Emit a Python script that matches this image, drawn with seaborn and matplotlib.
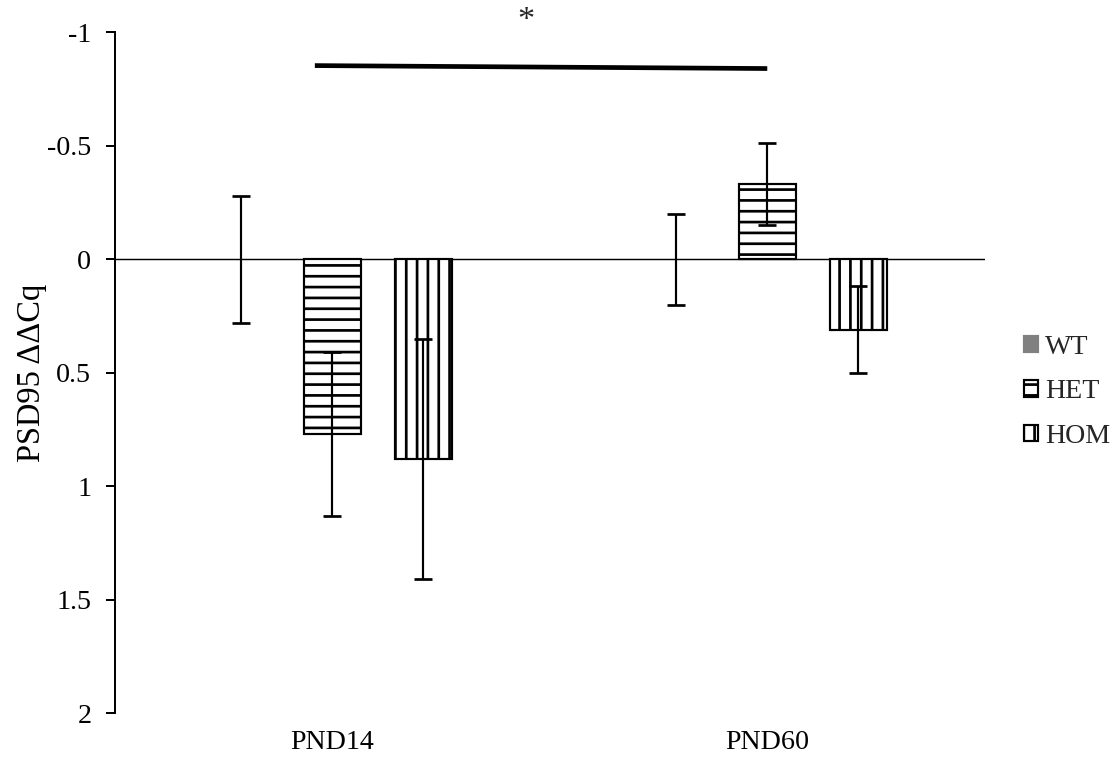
import pandas as pd
import matplotlib.pyplot as plt
import seaborn as sns
from matplotlib.patches import Patch
from matplotlib.ticker import FuncFormatter

groups = ['PND14', 'PND60']
genotypes = ['WT', 'HET', 'HOM']

wt_mean = [0.0, 0.0]
wt_sem = [0.28, 0.20]
het_mean = [0.77, -0.33]
het_sem = [0.36, 0.18]
hom_mean = [0.88, 0.31]
hom_sem = [0.53, 0.19]

# significance bar between the two ages
sig_x = [-0.04, 1.0]
sig_y = [-0.853, -0.84]
yticks = [-1, -0.5, 0, 0.5, 1, 1.5, 2]

means = {'WT': wt_mean, 'HET': het_mean, 'HOM': hom_mean}
sems = {'WT': wt_sem, 'HET': het_sem, 'HOM': hom_sem}

rows = []
for g in genotypes:
    for i, age in enumerate(groups):
        rows.append({'age': age, 'genotype': g, 'ddcq': means[g][i]})
df = pd.DataFrame(rows)

sns.set_style('white')
plt.rcParams['font.family'] = ['Liberation Serif', 'DejaVu Serif']
plt.rcParams['hatch.linewidth'] = 1.5
fs = 15.5

colors = {'WT': '#808080', 'HET': 'white', 'HOM': 'white'}
hatches = {'WT': '', 'HET': '--', 'HOM': '||'}

fig = plt.figure(figsize=(1114 / 130, 767 / 130), dpi=130)
ax = fig.add_axes([0.103, 0.070, 0.781, 0.888])

sns.barplot(data=df, x='age', y='ddcq', hue='genotype', order=groups,
            hue_order=genotypes, palette=colors, width=0.627, gap=0.37,
            errorbar=None, edgecolor='black', linewidth=1.2, legend=False,
            ax=ax, zorder=2)

# hatches + error bars per genotype
for cont, g in zip(ax.containers, genotypes):
    xs = []
    for bar in cont:
        bar.set_hatch(hatches[g])
        if g == 'WT':
            bar.set_linewidth(0)
        xs.append(bar.get_x() + bar.get_width() / 2)
    ax.errorbar(xs, means[g], yerr=sems[g], fmt='none', ecolor='black',
                elinewidth=1.2, capsize=5, capthick=1.5, zorder=4)

ax.axhline(0, color='black', lw=0.8, zorder=1)
ax.plot(sig_x, sig_y, color='black', lw=2.6, solid_capstyle='butt')
ax.text(0.445, -1.05, '*', ha='center', va='center', fontsize=19, clip_on=False)

ax.set_xlim(-0.5, 1.5)
ax.set_ylim(2, -1)
ax.set_yticks(yticks)
ax.yaxis.set_major_formatter(FuncFormatter(lambda v, p: f'{v:g}'))

for s in ['top', 'right', 'bottom']:
    ax.spines[s].set_visible(False)
ax.spines['left'].set_color('black')
ax.spines['left'].set_linewidth(1.1)

ax.tick_params(axis='y', left=True, direction='out', length=5, width=1.1,
               labelsize=fs, pad=8, colors='black')
ax.tick_params(axis='x', length=0, labelsize=fs, pad=9, colors='black')
ax.set_xlabel('')
ax.set_ylabel('PSD95 ΔΔCq', fontsize=18, color='black')
ax.yaxis.set_label_coords(-0.078, 0.5)

handles = [Patch(facecolor=colors[g], edgecolor='black' if g != 'WT' else colors[g],
                 hatch=hatches[g], linewidth=1.2) for g in genotypes]
fig.legend(handles, genotypes, loc='center left', bbox_to_anchor=(0.919, 0.489),
           frameon=False, fontsize=fs, borderpad=0, borderaxespad=0,
           handlelength=0.52, handleheight=0.52, handletextpad=0.25,
           labelspacing=0.7)

fig.savefig('out.png', dpi=130)
